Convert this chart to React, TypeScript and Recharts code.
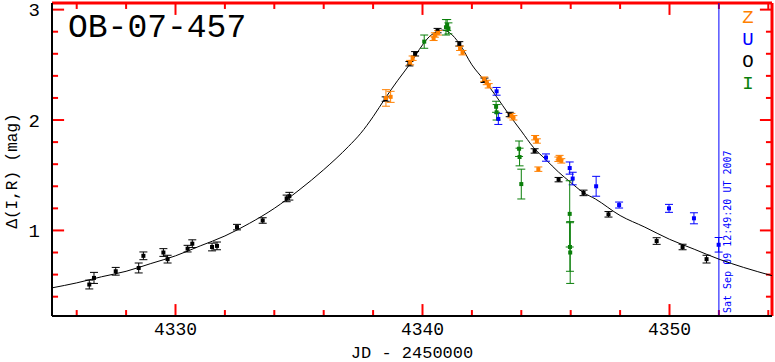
import React from 'react'
import { ComposedChart, Line, Scatter, ErrorBar, XAxis, YAxis, ReferenceLine } from 'recharts'

// model curve (JD-2450000, mag)
const curveDays = [4325.0, 4326.0, 4327.0, 4328.0, 4329.0, 4330.0, 4331.0, 4332.0, 4333.0, 4334.0, 4335.0, 4336.0, 4337.0, 4337.5, 4338.0, 4338.5, 4339.0, 4339.5, 4340.0, 4340.3, 4340.6, 4340.8, 4341.1, 4341.5, 4342.0, 4342.5, 4343.0, 4343.5, 4344.0, 4344.5, 4345.0, 4345.5, 4346.0, 4346.5, 4347.0, 4348.0, 4349.0, 4350.0, 4351.0, 4352.0, 4353.0, 4354.15]
const curveMag = [0.48, 0.525, 0.58, 0.63, 0.70, 0.77, 0.86, 0.95, 1.065, 1.20, 1.365, 1.55, 1.76, 1.88, 2.03, 2.20, 2.36, 2.51, 2.68, 2.76, 2.80, 2.815, 2.79, 2.69, 2.50, 2.36, 2.21, 2.05, 1.90, 1.75, 1.64, 1.53, 1.435, 1.345, 1.285, 1.135, 1.03, 0.92, 0.83, 0.74, 0.665, 0.59]

// O (black)
const oDays = [4326.51, 4326.70, 4327.58, 4328.51, 4328.70, 4329.51, 4329.68, 4330.49, 4330.68, 4331.48, 4331.68, 4332.49, 4333.53, 4334.50, 4334.61, 4338.51, 4339.47, 4339.70, 4340.61, 4341.49, 4342.51, 4343.53, 4344.54, 4345.51, 4346.52, 4347.53, 4349.48, 4350.53, 4351.50]
const oMag = [0.51, 0.57, 0.63, 0.66, 0.77, 0.80, 0.74, 0.835, 0.88, 0.85, 0.86, 1.03, 1.09, 1.29, 1.31, 2.19, 2.51, 2.60, 2.81, 2.69, 2.36, 2.05, 1.72, 1.46, 1.34, 1.146, 0.904, 0.85, 0.74]
const oErr = [0.04, 0.05, 0.035, 0.045, 0.035, 0.035, 0.035, 0.03, 0.035, 0.035, 0.035, 0.025, 0.025, 0.03, 0.035, 0.02, 0.02, 0.02, 0.02, 0.02, 0.02, 0.02, 0.02, 0.02, 0.025, 0.025, 0.03, 0.025, 0.035]

// U (blue)
const uDays = [4343.0, 4343.07, 4345.0, 4345.96, 4346.08, 4347.03, 4347.96, 4349.98, 4350.99, 4351.99]
const uMag = [2.26, 2.01, 1.66, 1.565, 1.47, 1.40, 1.23, 1.20, 1.11, 0.87]
const uErr = [0.035, 0.05, 0.033, 0.055, 0.057, 0.09, 0.027, 0.036, 0.05, 0.066]

// I (green)
const iDays = [4340.07, 4340.95, 4341.0, 4341.05, 4342.98, 4343.0, 4343.91, 4343.93, 4344.0, 4345.96, 4345.97, 4345.98]
const iMag = [2.71, 2.84, 2.86, 2.83, 2.12, 2.07, 1.74, 1.665, 1.42, 1.15, 0.85, 0.80]
const iErr = [0.06, 0.07, 0.05, 0.05, 0.05, 0.07, 0.07, 0.08, 0.135, 0.30, 0.22, 0.28]

// Z (orange)
const zDays = [4338.52, 4338.71, 4339.50, 4339.60, 4340.45, 4340.50, 4340.63, 4341.52, 4341.62, 4342.50, 4342.60, 4342.68, 4343.60, 4343.68, 4344.56, 4344.63, 4344.69, 4345.50, 4345.55, 4345.62]
const zMag = [2.20, 2.21, 2.52, 2.56, 2.74, 2.77, 2.79, 2.65, 2.61, 2.37, 2.34, 2.31, 2.04, 2.02, 1.84, 1.81, 1.555, 1.645, 1.66, 1.63]
const zErr = [0.075, 0.05, 0.02, 0.02, 0.02, 0.02, 0.02, 0.02, 0.02, 0.02, 0.02, 0.02, 0.02, 0.02, 0.02, 0.02, 0.02, 0.02, 0.02, 0.02]

const xMajor = [4330, 4340, 4350]
const xMinor = [4326, 4328, 4332, 4334, 4336, 4338, 4342, 4344, 4346, 4348, 4352, 4354]
const yMajor = [1, 2, 3]
const yMinor = [0.4, 0.6, 0.8, 1.2, 1.4, 1.6, 1.8, 2.2, 2.4, 2.6, 2.8]

const ORANGE = '#ff8000'
const BLUE = '#0000ff'
const GREEN = '#0a7f0a'
const FRAME = '#ff0000'
const MONO = '"Liberation Mono", "DejaVu Sans Mono", monospace'
const X0 = 4325, X1 = 4354.15
const Y0 = 0.225, Y1 = 3.06
// tick lengths in data units (~12px major, half for minor)
const XT = 0.49, YT = 0.108

const toPts = (d: number[], m: number[], e: number[]) => d.map((x, i) => ({ x, y: m[i], err: e[i] }))
const curve = curveDays.map((x, i) => ({ x, y: curveMag[i] }))
const oPts = toPts(oDays, oMag, oErr)
const uPts = toPts(uDays, uMag, uErr)
const iPts = toPts(iDays, iMag, iErr)
const zPts = toPts(zDays, zMag, zErr)

const square = (color: string) => (p: any) => (
  <rect x={p.cx - 2} y={p.cy - 2} width={4} height={4} fill={color} />
)

const DateLabel = (p: any) => {
  const vb = p.viewBox || {}
  const x = vb.x + 12
  const y = vb.y + vb.height - 3
  return (
    <text x={x} y={y} transform={`rotate(-90, ${x}, ${y})`} fontFamily='"DejaVu Sans Mono", monospace' fontSize={10} fill={BLUE}>
      Sat Sep 09 12:49:20 UT 2007
    </text>
  )
}

const axisStyle = { stroke: '#000', strokeWidth: 2 }
const labelStyle = { fontFamily: MONO, fontSize: 18, fill: '#000' }

const xTickMarks = [...xMajor.map(v => ({ v, len: YT })), ...xMinor.map(v => ({ v, len: YT / 2 }))]
const yTickMarks = [...yMajor.map(v => ({ v, len: XT })), ...yMinor.map(v => ({ v, len: XT / 2 }))]

export default function App() {
  return (
    <div style={{ position: 'absolute', left: 0, top: 0, width: 775, height: 362, background: '#fff' }}>
      <ComposedChart width={775} height={362} margin={{ top: 3, right: 3, bottom: 0, left: 0 }}>
        <XAxis dataKey="x" type="number" domain={[X0, X1]} allowDataOverflow ticks={xMajor} interval={0}
          tickSize={0} tickMargin={6} tickLine={false} tick={labelStyle} axisLine={axisStyle} height={46} />
        <YAxis type="number" domain={[Y0, Y1]} allowDataOverflow ticks={yMajor} interval={0}
          tickSize={0} tickMargin={12} tickLine={false} tick={{ ...labelStyle, fontSize: 19 }} axisLine={axisStyle} width={52} />
        <ReferenceLine y={Y1} stroke={FRAME} strokeWidth={3} ifOverflow="visible" />
        <ReferenceLine x={X1} stroke={FRAME} strokeWidth={3} ifOverflow="visible" />
        {xTickMarks.map(t => (
          <ReferenceLine key={'b' + t.v} ifOverflow="visible" stroke={FRAME} strokeWidth={2}
            segment={[{ x: t.v, y: Y0 }, { x: t.v, y: Y0 + t.len }]} />
        ))}
        {xTickMarks.map(t => (
          <ReferenceLine key={'t' + t.v} ifOverflow="visible" stroke={FRAME} strokeWidth={2}
            segment={[{ x: t.v, y: Y1 }, { x: t.v, y: Y1 - t.len }]} />
        ))}
        {yTickMarks.map(t => (
          <ReferenceLine key={'l' + t.v} ifOverflow="visible" stroke={FRAME} strokeWidth={2}
            segment={[{ x: X0, y: t.v }, { x: X0 + t.len, y: t.v }]} />
        ))}
        {yTickMarks.map(t => (
          <ReferenceLine key={'r' + t.v} ifOverflow="visible" stroke={FRAME} strokeWidth={2}
            segment={[{ x: X1, y: t.v }, { x: X1 - t.len, y: t.v }]} />
        ))}
        <ReferenceLine x={4352} stroke={BLUE} strokeWidth={1} label={(p: any) => <DateLabel {...p} />} />
        <Line data={curve} dataKey="y" type="monotone" dot={false} stroke="#000" strokeWidth={1} isAnimationActive={false} />
        <Scatter data={oPts} dataKey="y" fill="#000" shape={square('#000')} isAnimationActive={false}>
          <ErrorBar dataKey="err" direction="y" width={4} stroke="#000" strokeWidth={1} isAnimationActive={false} />
        </Scatter>
        <Scatter data={zPts} dataKey="y" fill={ORANGE} shape={square(ORANGE)} isAnimationActive={false}>
          <ErrorBar dataKey="err" direction="y" width={4} stroke={ORANGE} strokeWidth={1} isAnimationActive={false} />
        </Scatter>
        <Scatter data={uPts} dataKey="y" fill={BLUE} shape={square(BLUE)} isAnimationActive={false}>
          <ErrorBar dataKey="err" direction="y" width={4} stroke={BLUE} strokeWidth={1} isAnimationActive={false} />
        </Scatter>
        <Scatter data={iPts} dataKey="y" fill={GREEN} shape={square(GREEN)} isAnimationActive={false}>
          <ErrorBar dataKey="err" direction="y" width={4} stroke={GREEN} strokeWidth={1} isAnimationActive={false} />
        </Scatter>
      </ComposedChart>
      <svg width={775} height={362} style={{ position: 'absolute', left: 0, top: 0, pointerEvents: 'none' }}>
        <text x={68} y={37} fontFamily={MONO} fontSize={33} fill="#000">OB-07-457</text>
        <text x={748} y={23} textAnchor="middle" fontFamily={MONO} fontSize={19} fill={ORANGE}>Z</text>
        <text x={748} y={45} textAnchor="middle" fontFamily={MONO} fontSize={19} fill={BLUE}>U</text>
        <text x={748} y={67} textAnchor="middle" fontFamily={MONO} fontSize={19} fill="#000">O</text>
        <text x={748} y={89} textAnchor="middle" fontFamily={MONO} fontSize={19} fill={GREEN}>I</text>
        <text x={412} y={358} textAnchor="middle" fontFamily={MONO} fontSize={17} fill="#000">JD - 2450000</text>
        <text x={17} y={171} textAnchor="middle" transform="rotate(-90, 17, 171)" fontFamily={MONO} fontSize={16} fill="#000">Δ(I,R) (mag)</text>
      </svg>
    </div>
  )
}
